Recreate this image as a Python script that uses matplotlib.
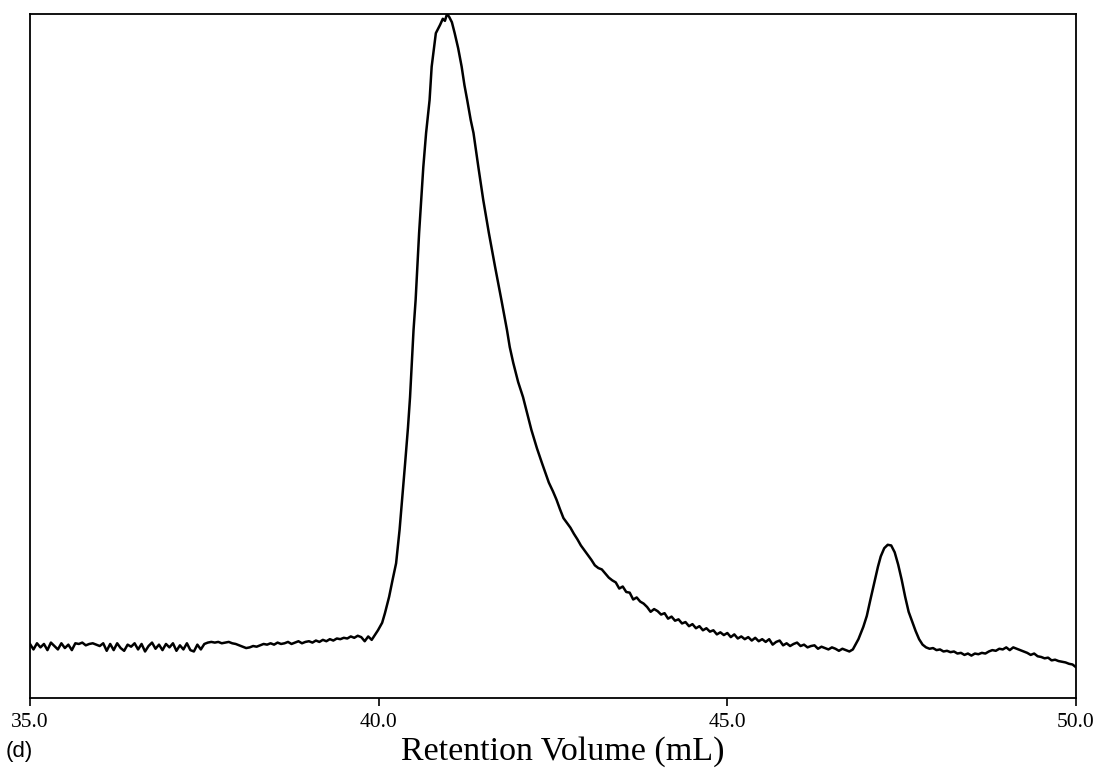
import matplotlib
matplotlib.use("Agg")
import matplotlib.pyplot as plt

# Baseline before the main peak (35.00 - 39.85 mL)
base_volume = [35.00, 35.05, 35.10, 35.15, 35.20, 35.25, 35.30, 35.35, 35.40, 35.45,
               35.50, 35.55, 35.60, 35.65, 35.70, 35.75, 35.80, 35.85, 35.90, 35.95,
               36.00, 36.05, 36.10, 36.15, 36.20, 36.25, 36.30, 36.35, 36.40, 36.45,
               36.50, 36.55, 36.60, 36.65, 36.70, 36.75, 36.80, 36.85, 36.90, 36.95,
               37.00, 37.05, 37.10, 37.15, 37.20, 37.25, 37.30, 37.35, 37.40, 37.45,
               37.50, 37.55, 37.60, 37.65, 37.70, 37.75, 37.80, 37.85, 37.90, 37.95,
               38.00, 38.05, 38.10, 38.15, 38.20, 38.25, 38.30, 38.35, 38.40, 38.45,
               38.50, 38.55, 38.60, 38.65, 38.70, 38.75, 38.80, 38.85, 38.90, 38.95,
               39.00, 39.05, 39.10, 39.15, 39.20, 39.25, 39.30, 39.35, 39.40, 39.45,
               39.50, 39.55, 39.60, 39.65, 39.70, 39.75, 39.80, 39.85]
base_signal = [7.9, 7.1, 8.0, 7.4, 7.9, 7.0, 8.1, 7.6, 7.1, 8.0,
               7.3, 7.8, 7.0, 8.0, 7.9, 8.1, 7.7, 7.9, 8.0, 7.8,
               7.6, 8.0, 6.9, 7.9, 7.0, 8.0, 7.3, 6.9, 7.8, 7.5,
               8.0, 7.1, 7.9, 6.8, 7.6, 8.1, 7.2, 7.8, 7.0, 7.9,
               7.4, 8.0, 6.9, 7.7, 7.1, 8.0, 7.0, 6.8, 7.8, 7.1,
               7.9, 8.1, 8.2, 8.1, 8.2, 8.0, 8.1, 8.2, 8.0, 7.9,
               7.7, 7.5, 7.3, 7.4, 7.6, 7.5, 7.7, 7.9, 7.8, 8.0,
               7.8, 8.1, 7.9, 8.0, 8.2, 7.9, 8.1, 8.3, 8.0, 8.2,
               8.3, 8.1, 8.4, 8.2, 8.5, 8.3, 8.6, 8.4, 8.7, 8.6,
               8.8, 8.7, 9.0, 8.8, 9.1, 8.9, 8.3, 9.0]

# Main peak (39.90 - 42.50 mL)
peak_volume = [39.90, 39.99, 40.05, 40.09, 40.15, 40.20, 40.25, 40.30, 40.34, 40.38,
               40.42, 40.45, 40.50, 40.53, 40.58, 40.64, 40.68, 40.73, 40.76, 40.82,
               40.88, 40.92, 40.95, 40.98, 41.01, 41.05, 41.09, 41.14, 41.19, 41.23,
               41.27, 41.32, 41.36, 41.43, 41.50, 41.58, 41.67, 41.76, 41.84, 41.88,
               41.93, 42.00, 42.07, 42.19, 42.27, 42.34, 42.44, 42.50]
peak_signal = [8.5, 9.9, 11.0, 12.4, 14.8, 17.3, 19.7, 24.6, 29.5, 34.4,
               39.5, 44.0, 53.8, 58.2, 68.0, 77.6, 82.6, 87.4, 92.3, 97.2,
               98.4, 99.3, 99.0, 100.0, 99.6, 98.8, 97.2, 95.0, 92.3, 89.6,
               87.4, 84.5, 82.6, 77.6, 72.8, 68.0, 63.0, 58.2, 53.8, 51.3,
               49.0, 46.2, 44.0, 39.2, 36.5, 34.4, 31.5, 30.2]

# Tail of the main peak (42.55 - 46.80 mL)
tail_volume = [42.55, 42.60, 42.65, 42.70, 42.75, 42.80, 42.85, 42.90, 42.95, 43.00,
               43.05, 43.10, 43.15, 43.20, 43.25, 43.30, 43.35, 43.40, 43.45, 43.50,
               43.55, 43.60, 43.65, 43.70, 43.75, 43.80, 43.85, 43.90, 43.95, 44.00,
               44.05, 44.10, 44.15, 44.20, 44.25, 44.30, 44.35, 44.40, 44.45, 44.50,
               44.55, 44.60, 44.65, 44.70, 44.75, 44.80, 44.85, 44.90, 44.95, 45.00,
               45.05, 45.10, 45.15, 45.20, 45.25, 45.30, 45.35, 45.40, 45.45, 45.50,
               45.55, 45.60, 45.65, 45.70, 45.75, 45.80, 45.85, 45.90, 45.95, 46.00,
               46.05, 46.10, 46.15, 46.20, 46.25, 46.30, 46.35, 46.40, 46.45, 46.50,
               46.55, 46.60, 46.65, 46.70, 46.75, 46.80]
tail_signal = [29.0, 27.6, 26.3, 25.6, 24.9, 24.0, 23.2, 22.3, 21.6, 20.9,
               20.2, 19.4, 19.0, 18.8, 18.2, 17.6, 17.2, 16.9, 16.0, 16.3,
               15.5, 15.4, 14.4, 14.7, 14.1, 13.8, 13.3, 12.6, 13.0, 12.7,
               12.2, 12.4, 11.6, 11.9, 11.3, 11.5, 10.9, 11.1, 10.5, 10.8,
               10.2, 10.5, 9.9, 10.2, 9.7, 9.9, 9.3, 9.6, 9.2, 9.5,
               8.9, 9.3, 8.7, 9.0, 8.6, 8.9, 8.4, 8.8, 8.3, 8.6,
               8.2, 8.6, 7.8, 8.2, 8.4, 7.7, 8.0, 7.6, 7.9, 8.1,
               7.6, 7.8, 7.4, 7.6, 7.7, 7.2, 7.5, 7.3, 7.1, 7.4,
               7.2, 6.9, 7.2, 7.0, 6.8, 7.1]

# Second (small) peak and final baseline (46.88 - 50.00 mL)
late_volume = [46.88, 46.95, 47.00, 47.05, 47.10, 47.16, 47.20, 47.25, 47.30, 47.35,
               47.40, 47.45, 47.50, 47.55, 47.60, 47.65, 47.70, 47.75, 47.80, 47.85,
               47.90, 47.95, 48.00, 48.05, 48.10, 48.15, 48.20, 48.25, 48.30, 48.35,
               48.40, 48.45, 48.50, 48.55, 48.60, 48.65, 48.70, 48.75, 48.80, 48.85,
               48.90, 48.95, 49.00, 49.05, 49.10, 49.15, 49.20, 49.25, 49.30, 49.35,
               49.40, 49.45, 49.50, 49.55, 49.60, 49.65, 49.70, 49.75, 49.80, 49.85,
               49.90, 49.95, 50.00]
late_signal = [8.6, 10.4, 12.0, 14.3, 16.5, 19.2, 20.7, 21.9, 22.4, 22.3,
               21.3, 19.5, 17.3, 14.8, 12.6, 11.2, 9.8, 8.6, 7.8, 7.4,
               7.2, 7.3, 7.0, 7.1, 6.8, 6.9, 6.7, 6.8, 6.5, 6.6,
               6.3, 6.5, 6.2, 6.5, 6.4, 6.6, 6.5, 6.8, 7.0, 6.9,
               7.2, 7.1, 7.4, 7.0, 7.4, 7.2, 7.0, 6.8, 6.6, 6.3,
               6.5, 6.1, 6.0, 5.8, 5.9, 5.5, 5.6, 5.4, 5.3, 5.2,
               5.0, 4.9, 4.5]

volume = base_volume + peak_volume + tail_volume + late_volume
signal = base_signal + peak_signal + tail_signal + late_signal

x_ticks = [35.0, 40.0, 45.0, 50.0]
x_tick_labels = ["35.0", "40.0", "45.0", "50.0"]

fig = plt.figure(figsize=(11.01, 7.69), dpi=100)
ax = fig.add_axes([30 / 1101, 1 - 698 / 769, 1046 / 1101, 684 / 769])

ax.plot(volume, signal, color="black", linewidth=1.8)

ax.set_xlim(35.0, 50.0)
ax.set_ylim(0, 100)
ax.set_xticks(x_ticks)
ax.set_xticklabels(x_tick_labels, fontfamily="Liberation Serif", fontsize=15.5)
ax.set_yticks([])
ax.tick_params(axis="x", direction="out", length=6, width=1.2, pad=5)
for sp in ax.spines.values():
    sp.set_linewidth(1.3)
    sp.set_color("black")

ax.set_xlabel("Retention Volume (mL)", fontfamily="Liberation Serif", fontsize=24.5)
ax.xaxis.set_label_coords((563 - 30) / 1046, -0.056)

fig.text(6 / 1101, 1 - 752 / 769, "(d)", fontfamily="Liberation Sans", fontsize=16,
         ha="left", va="center")

fig.savefig("out.png", dpi=100, facecolor="white")
